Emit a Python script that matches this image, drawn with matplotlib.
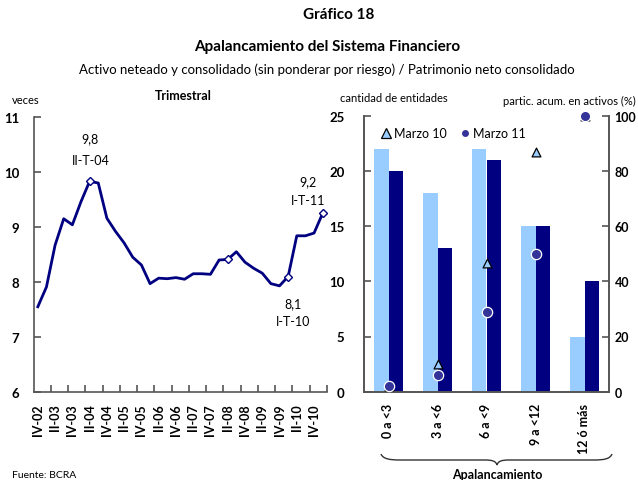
import numpy as np
import matplotlib
matplotlib.use("Agg")
import matplotlib.pyplot as plt
from matplotlib.path import Path
from matplotlib.patches import PathPatch
from matplotlib.lines import Line2D

plt.rcParams["font.family"] = ["Lato", "DejaVu Sans"]

# ── Data ──────────────────────────────────────────────────────────────────────
# quarterly leverage, IV-02 .. I-11
lev = [7.55, 7.91, 8.67, 9.15, 9.04, 9.46, 9.83, 9.80, 9.16, 8.92,
       8.71, 8.45, 8.31, 7.97, 8.07, 8.06, 8.08, 8.05, 8.15, 8.15,
       8.14, 8.40, 8.41, 8.55, 8.36, 8.25, 8.16, 7.97, 7.93, 8.10,
       8.84, 8.84, 8.89, 9.25]
q_labels = ["IV-02", "II-03", "IV-03", "II-04", "IV-04", "II-05", "IV-05",
            "II-06", "IV-06", "II-07", "IV-07", "II-08", "IV-08", "II-09",
            "IV-09", "II-10", "IV-10"]
marked = [6, 22, 29, 33]

cats = ["0 a <3", "3 a <6", "6 a <9", "9 a <12", "12 ó más"]
n_mar10 = [22, 18, 22, 15, 5]
n_mar11 = [20, 13, 21, 15, 10]
share_mar10 = [2, 10, 46.5, 87, 100]
share_mar11 = [2, 6, 29, 50, 100]

NAVY = "#000080"
LIGHT = "#99CCFF"
DOT = "#333399"
SPINE = "#555555"

fig = plt.figure(figsize=(6.38, 4.81), dpi=100)

# ── Titles ────────────────────────────────────────────────────────────────────
fig.text(339/638, 1-15/481, "Gráfico 18", ha="center", va="center",
         fontsize=11, fontweight="bold")
fig.text(327/638, 1-47/481, "Apalancamiento del Sistema Financiero",
         ha="center", va="center", fontsize=11, fontweight="bold")
fig.text(327/638, 1-70/481,
         "Activo neteado y consolidado (sin ponderar por riesgo) / Patrimonio neto consolidado",
         ha="center", va="center", fontsize=9.5)
fig.text(183/638, 1-96/481, "Trimestral", ha="center", va="center",
         fontsize=9, fontweight="bold")
fig.text(12/638, 1-101/481, "veces", ha="left", va="center", fontsize=8)
fig.text(340/638, 1-98/481, "cantidad de entidades", ha="left", va="center", fontsize=8)
fig.text(636/638, 1-101/481, "partic. acum. en activos (%)", ha="right",
         va="center", fontsize=8)
fig.text(12/638, 1-476/481, "Fuente: BCRA", ha="left", va="center", fontsize=7.5)

# ── Left: quarterly line ──────────────────────────────────────────────────────
ax1 = fig.add_axes([33.5/638, 1-393/481, (327-33.5)/638, (393-118)/481])
x = np.arange(len(lev))
ax1.plot(x, lev, color=NAVY, lw=2, zorder=3)
ax1.plot(x[marked], np.array(lev)[marked], ls="none", marker="D", ms=4.5,
         mfc="white", mec=NAVY, mew=1, zorder=4)
ax1.set_xlim(-0.5, 33.5)
ax1.set_ylim(6, 11)
ax1.set_yticks(range(6, 12))
ax1.set_xticks(np.arange(0, 33, 2))
ax1.set_xticklabels(q_labels, rotation=90, fontweight="bold", fontsize=9)
ax1.set_xticks(np.arange(1.5, 34, 2), minor=True)
ax1.tick_params(axis="x", which="major", length=0, pad=8)
ax1.tick_params(axis="x", which="minor", length=5, direction="in", color=SPINE, width=1.2)
ax1.tick_params(axis="y", length=5, direction="in", color=SPINE, width=1.2,
                labelsize=9.5, pad=10)
for lab in ax1.get_yticklabels():
    lab.set_fontweight("bold")
for s in ["top", "right"]:
    ax1.spines[s].set_visible(False)
for s in ["left", "bottom"]:
    ax1.spines[s].set_color(SPINE)
    ax1.spines[s].set_linewidth(1.2)

for xi, yv, txt in [(6.1, 10.62, "9,8"), (6.1, 10.21, "II-T-04"),
                    (31.3, 9.83, "9,2"), (31.3, 9.49, "I-T-11"),
                    (29.6, 7.62, "8,1"), (29.6, 7.29, "I-T-10")]:
    ax1.text(xi, yv, txt, ha="center", va="center", fontsize=9)

# ── Right: bars + cumulative share ───────────────────────────────────────────
ax2 = fig.add_axes([364/638, 1-392.7/481, (609-364)/638, (392.7-116.7)/481])
xc = np.arange(len(cats))
w = 0.29
ax2.bar(xc - w/2, n_mar10, width=w, color=LIGHT, zorder=2)
ax2.bar(xc + w/2, n_mar11, width=w, color=NAVY, zorder=2)
ax2.set_xlim(-0.5, 4.5)
ax2.set_ylim(0, 25)
ax2.set_yticks(range(0, 26, 5))
ax2.set_xticks(xc)
ax2.set_xticklabels(cats, rotation=90, fontweight="bold", fontsize=9)
ax2.tick_params(axis="x", length=0, pad=8)
ax2.tick_params(axis="y", length=5, direction="in", color=SPINE, width=1.2,
                labelsize=9.5, pad=14)
for lab in ax2.get_yticklabels():
    lab.set_fontweight("bold")
ax2.spines["top"].set_visible(False)
for s in ["left", "bottom", "right"]:
    ax2.spines[s].set_color(SPINE)
    ax2.spines[s].set_linewidth(1.2)

ax3 = ax2.twinx()
ax3.set_ylim(0, 100)
ax3.set_yticks(range(0, 101, 20))
ax3.scatter(xc, share_mar10, marker="^", s=40, color=LIGHT, edgecolor="black",
            linewidth=0.9, zorder=4, clip_on=False)
ax3.scatter(xc, share_mar11, marker="o", s=55, color=DOT, edgecolor="white",
            linewidth=0.9, zorder=5, clip_on=False)
ax3.tick_params(axis="y", length=5, direction="in", color=SPINE, width=1.2,
                labelsize=9, pad=4)
for lab in ax3.get_yticklabels():
    lab.set_fontweight("bold")
ax3.spines["top"].set_visible(False)
for s in ["left", "bottom", "right"]:
    ax3.spines[s].set_color(SPINE)
    ax3.spines[s].set_linewidth(1.2)

handles = [Line2D([], [], ls="none", marker="^", ms=7, mfc=LIGHT, mec="black",
                  mew=0.9, label="Marzo 10"),
           Line2D([], [], ls="none", marker="o", ms=6, mfc=DOT, mec="white",
                  label="Marzo 11")]
ax3.legend(handles=handles, loc="upper left", bbox_to_anchor=(0.02, 1.0),
           ncol=2, frameon=False, fontsize=9, handletextpad=0.1,
           columnspacing=1.0, handlelength=1.0)

# ── Brace under categories ───────────────────────────────────────────────────
pts = [(381, 455), (383, 460), (390, 461), (400, 461),
       (485, 461),
       (492, 461), (496, 462), (497, 466),
       (498, 462), (502, 461), (509, 461),
       (594, 461),
       (604, 461), (610, 460), (612, 455)]
codes = [Path.MOVETO, Path.CURVE4, Path.CURVE4, Path.CURVE4,
         Path.LINETO,
         Path.CURVE4, Path.CURVE4, Path.CURVE4,
         Path.CURVE4, Path.CURVE4, Path.CURVE4,
         Path.LINETO,
         Path.CURVE4, Path.CURVE4, Path.CURVE4]
verts = [(px/638, 1 - py/481) for px, py in pts]
fig.patches.append(PathPatch(Path(verts, codes), transform=fig.transFigure,
                             fill=False, lw=1, color="#333333"))
fig.text(497/638, 1-475/481, "Apalancamiento", ha="center", va="center",
         fontsize=9, fontweight="bold")

fig.savefig("out.png", dpi=100)
